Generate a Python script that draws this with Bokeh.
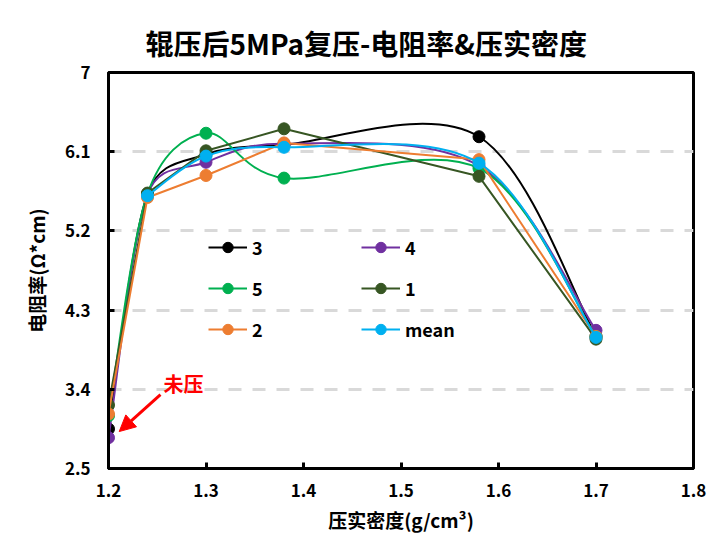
import math
from bokeh.plotting import figure
from bokeh.models import (FixedTicker, CustomJSTickFormatter, Legend, LegendItem, Label,
                          Arrow, NormalHead, Range1d, ColumnDataSource, Title)
from bokeh.embed import file_html
from bokeh.resources import INLINE

# ---------------- data ----------------
density = [1.2, 1.24, 1.3, 1.38, 1.58, 1.7]
s3 = [2.95, 5.62, 6.07, 6.18, 6.27, 4.00]
s4 = [2.85, 5.61, 5.98, 6.19, 5.94, 4.07]
s5 = [3.10, 5.62, 6.31, 5.80, 5.91, 4.00]
s1 = [3.22, 5.63, 6.11, 6.36, 5.82, 3.97]
s2 = [3.12, 5.58, 5.83, 6.20, 6.01, 4.00]
smean = [None, 5.60, 6.05, 6.15, 5.97, 3.99]

series_names = ["3", "4", "5", "1", "2", "mean"]
series_values = [s3, s4, s5, s1, s2, smean]
series_colors = ["#000000", "#7030A0", "#00B050", "#375623", "#ED7D31", "#00B0F0"]
series_smooth = [True, True, True, False, False, True]

x_ticks = [1.2, 1.3, 1.4, 1.5, 1.6, 1.7, 1.8]
y_ticks = [2.5, 3.4, 4.3, 5.2, 6.1, 7]
grid_ticks = [3.4, 4.3, 5.2, 6.1]

FONT = "Noto Sans CJK SC"

# frame geometry (pixels)
FRAME_W, FRAME_H = 585, 396
X0, X1, Y0, Y1 = 1.2, 1.8, 2.5, 7.0
KX = FRAME_W / (X1 - X0)
KY = FRAME_H / (Y1 - Y0)


def smooth_segments(xs, ys):
    """Excel-like smoothed line: cubic Bezier segments (control points in data units)."""
    pts = [(a, b) for a, b in zip(xs, ys) if b is not None]
    n = len(pts)
    d = dict(x0=[], y0=[], x1=[], y1=[], cx0=[], cy0=[], cx1=[], cy1=[])

    def dist(a, b):
        return math.hypot((a[0] - b[0]) * KX, (a[1] - b[1]) * KY)

    for i in range(n - 1):
        pm = pts[max(i - 1, 0)]
        pa = pts[i]
        pb = pts[i + 1]
        pn = pts[min(i + 2, n - 1)]
        d12 = dist(pa, pb)
        d02 = dist(pm, pb)
        d13 = dist(pa, pn)
        f0 = 1 / 6.0
        f1 = 1 / 6.0
        if d02 > 0 and d02 / 6.0 > d12 / 2.0:
            f0 = d12 / (2.0 * d02)
        if d13 > 0 and d13 / 6.0 > d12 / 2.0:
            f1 = d12 / (2.0 * d13)
        d["x0"].append(pa[0]); d["y0"].append(pa[1])
        d["x1"].append(pb[0]); d["y1"].append(pb[1])
        d["cx0"].append(pa[0] + (pb[0] - pm[0]) * f0)
        d["cy0"].append(pa[1] + (pb[1] - pm[1]) * f0)
        d["cx1"].append(pb[0] - (pn[0] - pa[0]) * f1)
        d["cy1"].append(pb[1] - (pn[1] - pa[1]) * f1)
    return d


p = figure(width=713, height=543, output_backend="svg", toolbar_location=None,
           x_range=Range1d(X0, X1), y_range=Range1d(Y0, Y1),
           min_border_left=108, min_border_right=20, min_border_top=72, min_border_bottom=75,
           background_fill_color="white", border_fill_color="white")

p.outline_line_color = "black"
p.outline_line_width = 3

# title
p.title = Title(text="辊压后5MPa复压-电阻率&压实密度", align="left", offset=37, standoff=19,
                text_font=FONT, text_font_size="28px", text_font_style="bold",
                text_color="black")

# axes
for ax in (p.xaxis[0], p.yaxis[0]):
    ax.axis_line_width = 3
    ax.axis_line_color = "black"
    ax.major_tick_in = 6
    ax.major_tick_out = 0
    ax.major_tick_line_width = 3
    ax.major_tick_line_color = "black"
    ax.minor_tick_line_color = None
    ax.major_label_text_font = FONT
    ax.major_label_text_font_size = "17px"
    ax.major_label_text_font_style = "bold"
    ax.major_label_text_color = "black"
    ax.axis_label_text_font = FONT
    ax.axis_label_text_font_size = "19px"
    ax.axis_label_text_font_style = "bold"
    ax.axis_label_text_color = "black"

p.xaxis.ticker = FixedTicker(ticks=x_ticks)
p.xaxis.formatter = CustomJSTickFormatter(code="return tick.toFixed(1);")
p.xaxis.axis_label = "压实密度(g/cm³)"
p.xaxis.major_label_standoff = 15
p.xaxis.axis_label_standoff = 6

p.yaxis.ticker = FixedTicker(ticks=y_ticks)
p.yaxis.formatter = CustomJSTickFormatter(code="return String(Math.round(tick*10)/10);")
p.yaxis.axis_label = "电阻率(Ω*cm)"
p.yaxis.major_label_standoff = 18
p.yaxis.axis_label_standoff = 12

p.xgrid.visible = False
p.ygrid.ticker = FixedTicker(ticks=grid_ticks)
p.ygrid.grid_line_color = "#D9D9D9"
p.ygrid.grid_line_width = 3
p.ygrid.grid_line_dash = "13 11"

items = []
for name, vals, col, smooth in zip(series_names, series_values, series_colors, series_smooth):
    px = [a for a, b in zip(density, vals) if b is not None]
    py = [b for b in vals if b is not None]
    if smooth:
        seg = ColumnDataSource(smooth_segments(density, vals))
        p.bezier(x0="x0", y0="y0", x1="x1", y1="y1", cx0="cx0", cy0="cy0", cx1="cx1",
                 cy1="cy1", source=seg, line_color=col, line_width=2)
        ln = p.line(px[:1], py[:1], line_color=col, line_width=2)
    else:
        ln = p.line(px, py, line_color=col, line_width=2)
    sc = p.scatter(px, py, marker="circle", size=12, fill_color=col, line_color=col)
    items.append(LegendItem(label=name, renderers=[ln, sc]))


def make_legend(its, loc):
    return Legend(items=its, location=loc, orientation="vertical", padding=0, margin=0,
                  spacing=15, glyph_width=39, glyph_height=26, label_standoff=5,
                  border_line_color=None, background_fill_alpha=0,
                  label_text_font=FONT, label_text_font_size="18px",
                  label_text_font_style="bold", label_text_color="black")


p.add_layout(make_legend([items[0], items[2], items[4]], (100, 126)))
p.add_layout(make_legend([items[1], items[3], items[5]], (253, 126)))

# annotation
p.add_layout(Arrow(end=NormalHead(size=16, fill_color="#FF0000", line_color="#FF0000"),
                   x_start=1.2533, y_start=3.34, x_end=1.211, y_end=2.92,
                   line_color="#FF0000", line_width=3))
p.add_layout(Label(x=1.277, y=3.47, text="未压", text_align="center", text_baseline="middle",
                   text_color="#FF0000", text_font=FONT, text_font_size="20px",
                   text_font_style="bold"))

open("out.html", "w").write(file_html(p, INLINE))
